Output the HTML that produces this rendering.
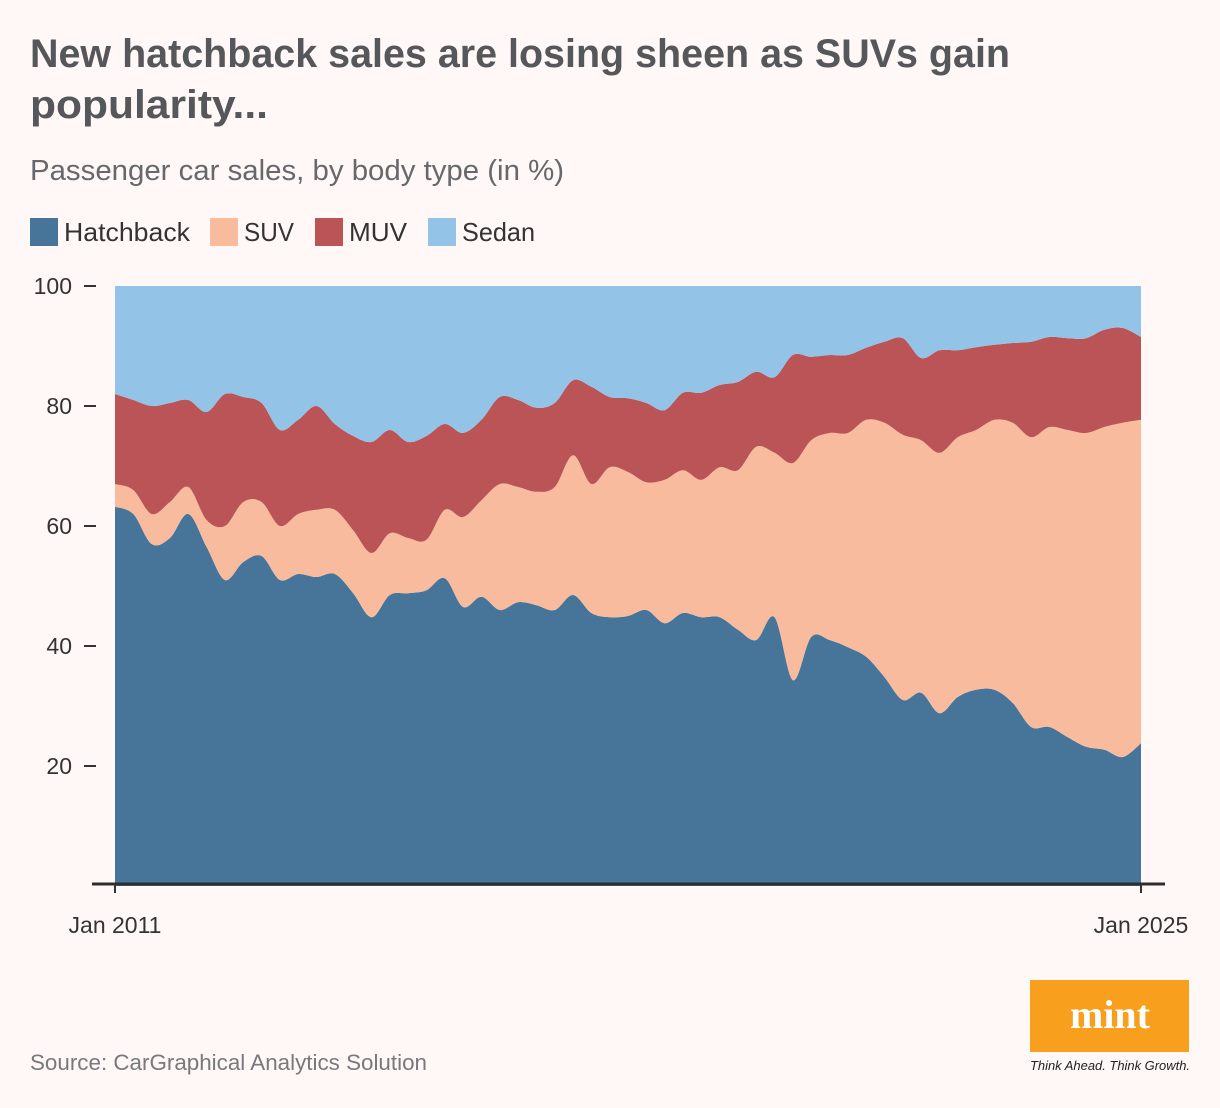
<!DOCTYPE html>
<html><head><meta charset="utf-8"><style>
html,body{margin:0;padding:0;background:#fff8f7;}
svg{display:block;font-family:"Liberation Sans",sans-serif;}
</style></head><body>
<svg width="1220" height="1108" viewBox="0 0 1220 1108">
<rect x="0" y="0" width="1220" height="1108" fill="#fff8f7"/>
<text x="30" y="67" font-size="40" font-weight="bold" fill="#55575a" textLength="980" lengthAdjust="spacingAndGlyphs">New hatchback sales are losing sheen as SUVs gain</text>
<text x="30" y="118" font-size="40" font-weight="bold" fill="#55575a" textLength="238" lengthAdjust="spacingAndGlyphs">popularity...</text>
<text x="30" y="180" font-size="29" fill="#66686b" textLength="534" lengthAdjust="spacingAndGlyphs">Passenger car sales, by body type (in %)</text>
<g>
<g><rect x="30" y="218" width="28" height="28" fill="#47759a"/><text x="64" y="241" font-size="26" fill="#333" textLength="126" lengthAdjust="spacingAndGlyphs">Hatchback</text></g>
<g><rect x="210" y="218" width="28" height="28" fill="#f8bb9e"/><text x="244" y="241" font-size="26" fill="#333" textLength="50" lengthAdjust="spacingAndGlyphs">SUV</text></g>
<g><rect x="315" y="218" width="28" height="28" fill="#bb5456"/><text x="349" y="241" font-size="26" fill="#333" textLength="58" lengthAdjust="spacingAndGlyphs">MUV</text></g>
<g><rect x="428" y="218" width="28" height="28" fill="#93c3e6"/><text x="462" y="241" font-size="26" fill="#333" textLength="73" lengthAdjust="spacingAndGlyphs">Sedan</text></g>
</g>
<g id="areas"></g>
<g id="yaxis"></g>
<line x1="92" y1="884" x2="1165" y2="884" stroke="#2d2d2d" stroke-width="3"/>
<g id="xaxis"></g>
<text x="30" y="1070" font-size="22" fill="#77797c" textLength="397" lengthAdjust="spacingAndGlyphs">Source: CarGraphical Analytics Solution</text>
<g>
<rect x="1030" y="980" width="159" height="72" fill="#f99f1e"/>
<text x="1110" y="1028" font-size="40" font-weight="bold" font-family="Liberation Serif,serif" fill="#fff" text-anchor="middle">mint</text>
<text x="1030" y="1070" font-size="12.5" font-style="italic" fill="#222" textLength="160" lengthAdjust="spacingAndGlyphs">Think Ahead. Think Growth.</text>
</g>
</svg>
<script>
const hatchback=[63.2,62,57,58,62,56.5,51,54,55,51,52,51.5,52,48.8,44.8,48.5,48.8,49.3,51.3,46.5,48.2,46,47.3,46.8,46,48.5,45.5,44.8,45,46,43.8,45.5,44.8,44.8,42.7,41,44.8,34.3,41.5,41,39.8,38.2,34.8,31,32.2,28.8,31.5,32.7,32.7,30.5,26.5,26.5,24.8,23.2,22.7,21.5,23.8];
const suv=[3.8,4,5,6,4.5,4.5,9,10,9,9,10,11.2,10.7,10.5,10.7,10.3,9.2,8.4,11.4,15,16.1,21,19.2,18.9,20.5,23.3,21.5,25,24,21.3,23.9,23.8,22.9,25,26.6,32.2,27.4,36.2,32.8,34.5,35.7,39.5,42.4,44.2,42.1,43.4,43.3,43.3,45,46.7,48.3,50,51.2,52.3,53.8,55.7,53.9];
const muv=[15,15,18,16.5,14.5,18,22,17.5,16.5,16,15.7,17.3,14.3,15.7,18.5,17.2,16,17.3,14.3,14,13.4,14.5,14.5,14,14,12.5,16.2,11.7,12.3,13.2,11.6,12.9,14.5,13.7,14.7,12.5,12.6,18,13.9,13,13,12,13.5,16.1,13.7,17.1,14.5,13.8,12.5,13.3,15.9,15,15.3,15.8,16.2,15.8,13.8];
const sedan=[18,19,20,19.5,19,21,18,18.5,19.5,24,22.3,20,23,25,26,24,26,25,23,24.5,22.3,18.5,19,20.3,19.5,15.7,16.8,18.5,18.7,19.5,20.7,17.8,17.8,16.5,16,14.3,15.2,11.5,11.8,11.5,11.5,10.3,9.3,8.7,12,10.7,10.7,10.2,9.8,9.5,9.3,8.5,8.7,8.7,7.3,7,8.5];
const yTicks=[20,40,60,80,100];
const xTickLabels=["Jan 2011","Jan 2025"];
const seriesNames=["hatchback","suv","muv","sedan"];
const colors=["#47759a","#f8bb9e","#bb5456","#93c3e6"];

const NS="http://www.w3.org/2000/svg";
const X0=115,X1=1141,Y0=886,PXU=6;
const n=hatchback.length;
const xs=i=>X0+(X1-X0)*i/(n-1);
const ys=v=>Y0-v*PXU;
function smooth(pts){
  let d="";
  for(let i=0;i<pts.length-1;i++){
    const p0=pts[Math.max(i-1,0)],p1=pts[i],p2=pts[i+1],p3=pts[Math.min(i+2,pts.length-1)];
    const c1=[p1[0]+(p2[0]-p0[0])/6,p1[1]+(p2[1]-p0[1])/6];
    const c2=[p2[0]-(p3[0]-p1[0])/6,p2[1]-(p3[1]-p1[1])/6];
    d+=` C${c1[0]},${c1[1]} ${c2[0]},${c2[1]} ${p2[0]},${p2[1]}`;
  }
  return d;
}
const all=[hatchback,suv,muv,sedan];
const areas=document.getElementById('areas');
let base=new Array(n).fill(0);
all.forEach((s,k)=>{
  const top=base.map((b,i)=>b+s[i]);
  const tp=top.map((v,i)=>[xs(i),ys(v)]);
  const bp=base.map((v,i)=>[xs(i),ys(v)]).reverse();
  let d=`M${tp[0][0]},${tp[0][1]}`+smooth(tp)+` L${bp[0][0]},${bp[0][1]}`+smooth(bp)+"Z";
  const p=document.createElementNS(NS,'path');
  p.setAttribute('d',d);p.setAttribute('fill',colors[k]);
  
  
  areas.appendChild(p);
  base=top;
});
const ya=document.getElementById('yaxis');
yTicks.forEach(t=>{
  const l=document.createElementNS(NS,'line');
  l.setAttribute('x1',84);l.setAttribute('x2',96);l.setAttribute('y1',ys(t));l.setAttribute('y2',ys(t));
  l.setAttribute('stroke','#333');l.setAttribute('stroke-width','2');
  
  
  ya.appendChild(l);
  const tx=document.createElementNS(NS,'text');
  tx.setAttribute('x',72);tx.setAttribute('y',ys(t)+8);tx.setAttribute('text-anchor','end');
  tx.setAttribute('font-size','23');tx.setAttribute('fill','#333');tx.textContent=t;
  
  
  ya.appendChild(tx);
});
const xa=document.getElementById('xaxis');
xTickLabels.forEach((lab,j)=>{
  const x=j===0?X0:X1;
  const l=document.createElementNS(NS,'line');
  l.setAttribute('x1',x);l.setAttribute('x2',x);l.setAttribute('y1',884);l.setAttribute('y2',893);
  l.setAttribute('stroke','#333');l.setAttribute('stroke-width','2');
  
  
  xa.appendChild(l);
  const tx=document.createElementNS(NS,'text');
  tx.setAttribute('x',x);tx.setAttribute('y',933);tx.setAttribute('text-anchor','middle');
  tx.setAttribute('font-size','23');tx.setAttribute('fill','#333');tx.textContent=lab;
  
  
  xa.appendChild(tx);
});
</script>
</body></html>
